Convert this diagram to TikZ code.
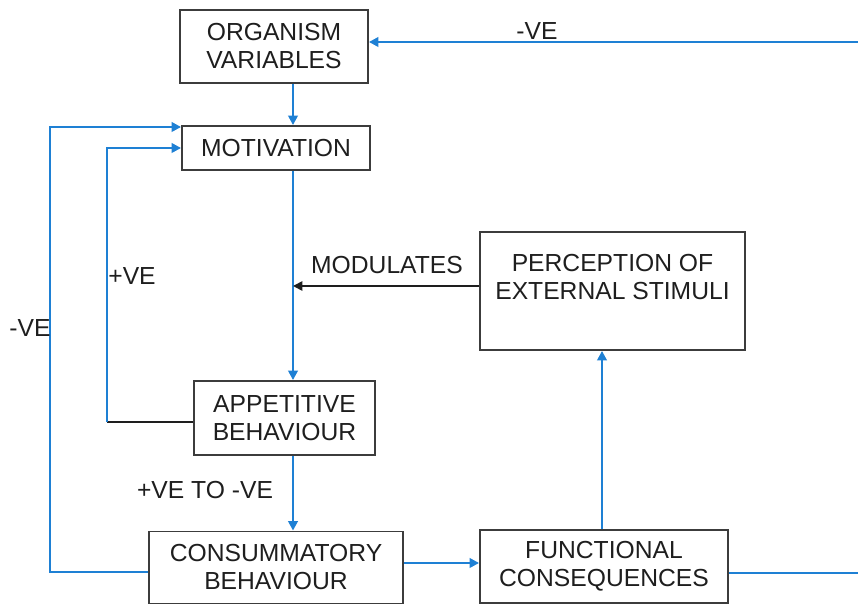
\documentclass[tikz,border=0pt]{standalone}
\usepackage{fontspec}
\setmainfont{Liberation Sans}
\usetikzlibrary{arrows.meta}
\definecolor{linkblue}{RGB}{30,128,212}
\definecolor{boxgray}{RGB}{60,60,60}
\definecolor{inkgray}{RGB}{30,30,30}
\begin{document}
\begin{tikzpicture}[x=0.75pt,y=-0.75pt,
  box/.style={draw=boxgray, line width=1.4pt, align=center, inner sep=0pt, text=inkgray, font=\fontsize{18.5}{21}\selectfont},
  lbl/.style={text=inkgray, inner sep=0pt, font=\fontsize{18.5}{21}\selectfont},
  bluelink/.style={draw=linkblue, line width=2pt},
  bluearrow/.style={bluelink, -{Triangle[length=7pt,width=7pt]}},
  darklink/.style={draw=inkgray, line width=1.3pt},
  darkarrow/.style={darklink, -{Triangle[length=7pt,width=7pt]}}]
\useasboundingbox (0,0) rectangle (858,605);
\node[box, minimum width=188*0.75pt, minimum height=73*0.75pt] (org) at (274,46.5){ORGANISM\\VARIABLES};
\node[box, minimum width=188*0.75pt, minimum height=44*0.75pt] (mot) at (276,148){MOTIVATION};
\node[box, minimum width=265*0.75pt, minimum height=118*0.75pt] (per) at (612.5,291){PERCEPTION OF\\EXTERNAL STIMULI\\\mbox{}};
\node[box, minimum width=181*0.75pt, minimum height=74*0.75pt] (app) at (284.5,418){APPETITIVE\\BEHAVIOUR};
\node[box, minimum width=254*0.75pt, minimum height=72*0.75pt] (con) at (276,567.5){CONSUMMATORY\\BEHAVIOUR};
\node[box, minimum width=248*0.75pt, minimum height=73*0.75pt] (fun) at (604,566.5){FUNCTIONAL\\CONSEQUENCES};
\coordinate (mid) at (293,286);
\coordinate (rtb) at (864,573);
\coordinate (rtt) at (864,42);
\coordinate (pvl) at (107,422);
\coordinate (pvt) at (107,148);
\coordinate (nvl) at (50,572);
\coordinate (nvt) at (50,127);
\coordinate (cfl) at (0,563);
\coordinate (fpu) at (602,0);
\draw[bluearrow](fun.east |- rtb) -- (rtb) -- (rtt) -- (org.east |- rtt);
\draw[bluearrow](org.south -| mid) -- (mot.north -| mid);
\draw[bluearrow](mot.south -| mid) -- (app.north -| mid);
\draw[darkarrow](per.west |- mid) -- (mid);
\draw[bluearrow](app.south -| mid) -- (con.north -| mid);
\draw[darklink](app.west |- pvl) -- (pvl);
\draw[bluearrow](pvl) -- (pvt) -- (mot.west |- pvt);
\draw[bluearrow](con.west |- nvl) -- (nvl) -- (nvt) -- (mot.west |- nvt);
\draw[bluearrow](con.east |- cfl) -- (fun.west |- cfl);
\draw[bluearrow](fun.north -| fpu) -- (per.south -| fpu);
\node[lbl] (negtop) at (537,31){-VE};
\node[lbl] (modlbl) at (387,265){MODULATES};
\node[lbl] (poslbl) at (132,276){+VE};
\node[lbl] (negleft) at (30,328){-VE};
\node[lbl] (pnlbl) at (205,490){+VE TO -VE};
\end{tikzpicture}
\end{document}
